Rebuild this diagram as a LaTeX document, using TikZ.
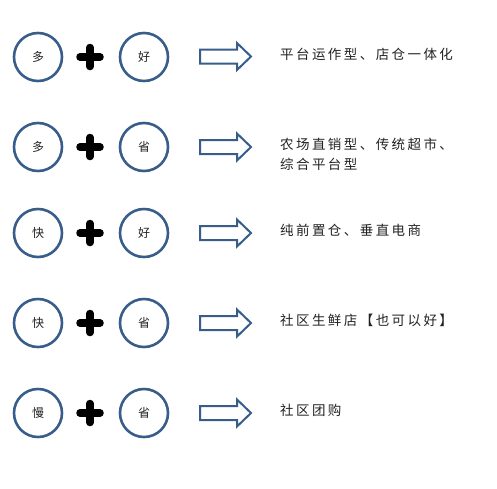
\documentclass[tikz,border=0pt]{standalone}
\usepackage{fontspec}
\newfontfamily\cjk[LetterSpace=18]{Noto Sans CJK SC}
\newfontfamily\cjkc{Noto Sans CJK SC}
\definecolor{ringblue}{HTML}{385D8A}
\definecolor{inkgrey}{HTML}{222222}
\tikzset{
  x=1pt, y=-1pt,
  ring/.style={circle, draw=ringblue, line width=2.6pt, minimum size=48pt, inner sep=0pt, font=\cjkc\fontsize{12}{12}\selectfont, text=inkgrey},
  plusmark/.pic={\draw[line width=7.5pt, line cap=round] (-10,0) -- (10,0) (0,-9.5) -- (0,9.5);},
  blockarrow/.pic={\draw[draw=ringblue, line width=2pt, line join=miter, fill=white] (0,-7) -- (37,-7) -- (37,-13.5) -- (51,0) -- (37,13.5) -- (37,7) -- (0,7) -- cycle;},
  result/.style={anchor=north west, inner sep=0pt, align=left, text=inkgrey, font=\cjk\fontsize{13.5}{20}\selectfont}
}
\begin{document}
\begin{tikzpicture}
\useasboundingbox (0,0) rectangle (497,488);
% row 1
\node[ring] (a1) at (38,57) {多};
\pic (p1) at (90,57) {plusmark};
\node[ring] (b1) at (144,57) {好};
\pic (r1) at (200,56.5) {blockarrow};
\node[result] (t1) at (280,48) {平台运作型、店仓一体化};
% row 2
\node[ring] (a2) at (38,147) {多};
\pic (p2) at (90,147) {plusmark};
\node[ring] (b2) at (144,147) {省};
\pic (r2) at (200,147) {blockarrow};
\node[result] (t2) at (280,138) {农场直销型、传统超市、\\综合平台型};
% row 3
\node[ring] (a3) at (38,233) {快};
\pic (p3) at (90,233) {plusmark};
\node[ring] (b3) at (144,233) {好};
\pic (r3) at (200,233) {blockarrow};
\node[result] (t3) at (280,224) {纯前置仓、垂直电商};
% row 4
\node[ring] (a4) at (38,323) {快};
\pic (p4) at (90,323) {plusmark};
\node[ring] (b4) at (144,323) {省};
\pic (r4) at (200,323) {blockarrow};
\node[result] (t4) at (280,314) {社区生鲜店【也可以好】};
% row 5
\node[ring] (a5) at (38,413) {慢};
\pic (p5) at (90,413) {plusmark};
\node[ring] (b5) at (144,413) {省};
\pic (r5) at (200,413) {blockarrow};
\node[result] (t5) at (280,404) {社区团购};
\end{tikzpicture}
\end{document}
